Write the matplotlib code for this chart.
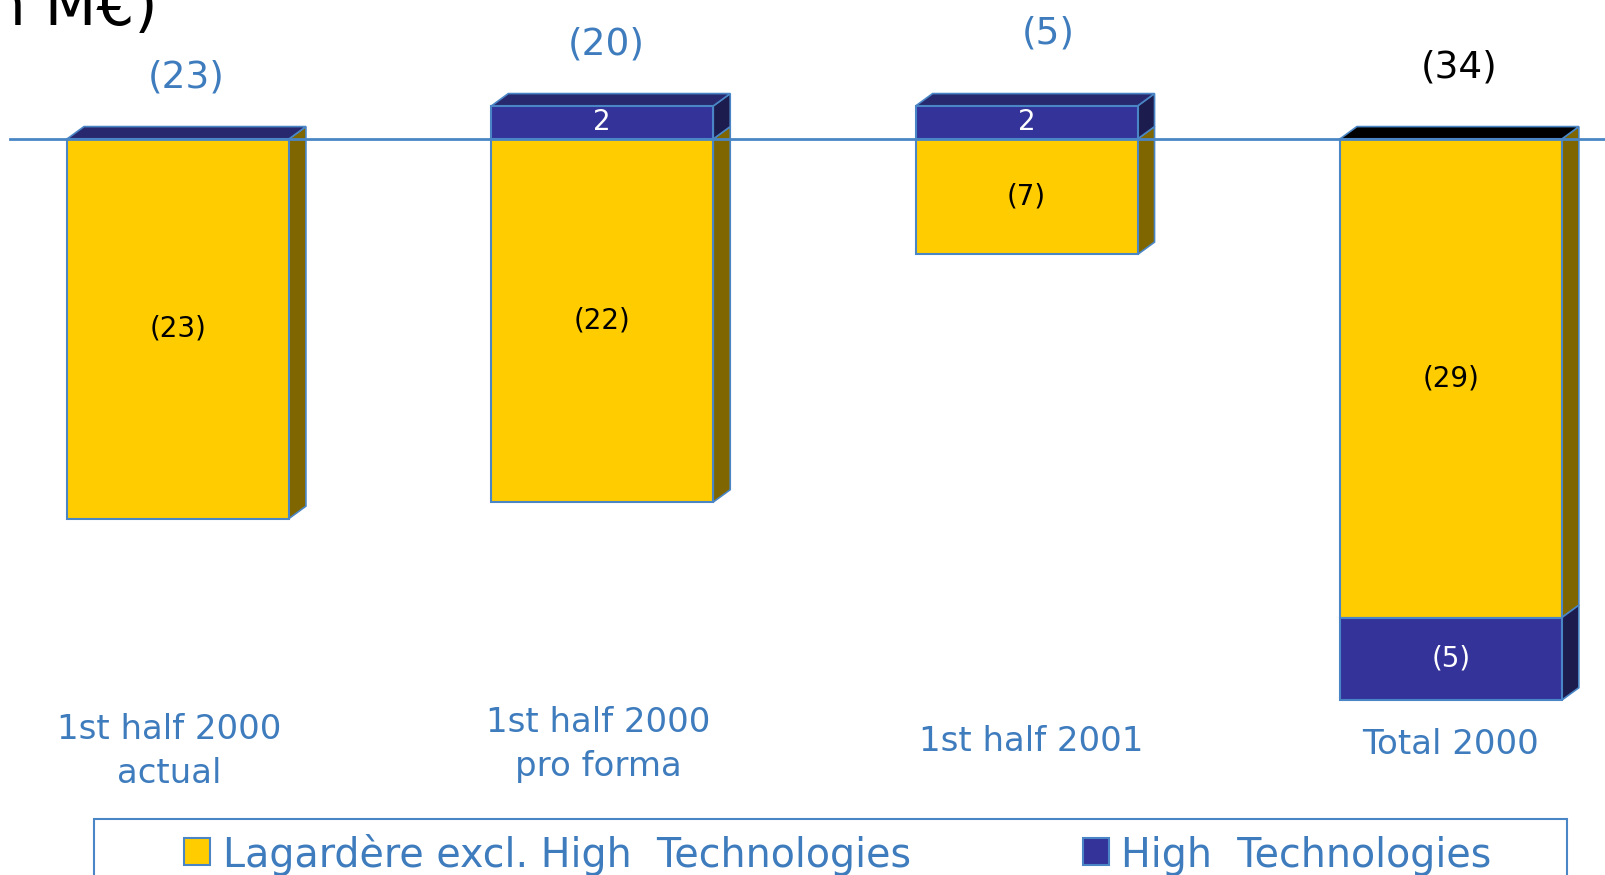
import matplotlib
matplotlib.use('Agg')
import matplotlib.pyplot as plt
from matplotlib.patches import Polygon, Rectangle

# EBIT contribution, M€
categories = ['1st half 2000\nactual', '1st half 2000\npro forma', '1st half 2001', 'Total 2000']
lagardere = [-23, -22, -7, -29]
high_tech = [0, 2, 2, -5]
totals = ['(23)', '(20)', '(5)', '(34)']
legend_labels = ['Lagardère excl. High  Technologies', 'High  Technologies']

YELLOW, YELLOW_SIDE = '#FFCC00', '#806600'
NAVY, NAVY_SIDE, NAVY_TOP = '#333399', '#1C1C4E', '#28286E'
EDGE = '#4A86C5'
TXT = '#3E7CBD'

W, H = 1606, 875
fig = plt.figure(figsize=(W / 100, H / 100), dpi=100)
ax = fig.add_axes([0, 0, 1, 1])
ax.set_xlim(-0.4195, 3.3655)
ax.set_ylim(-44.6, 8.42)
ax.axis('off')

width = 0.523
dx, dy = 0.040, 0.75          # 3D depth offset in data units
x = list(range(len(categories)))


def fmt(v):
    return f'({abs(v)})' if v < 0 else f'{v}'


def side(xr, y0, y1, color):
    pts = [(xr, y0), (xr + dx, y0 + dy), (xr + dx, y1 + dy), (xr, y1)]
    ax.add_patch(Polygon(pts, closed=True, facecolor=color, edgecolor=EDGE, lw=1.2, zorder=2))


def top(xl, xr, yt, color):
    pts = [(xl, yt), (xl + dx, yt + dy), (xr + dx, yt + dy), (xr, yt)]
    ax.add_patch(Polygon(pts, closed=True, facecolor=color, edgecolor=EDGE, lw=1.2, zorder=2))


top_colors = [NAVY_TOP, NAVY_TOP, NAVY_TOP, 'black']
inner = dict(ha='center', va='center', fontsize=20, zorder=5)

for i in x:
    lg, ht = lagardere[i], high_tech[i]
    xl, xr = i - width / 2, i + width / 2
    # yellow segment always hangs from zero
    ax.bar(i, lg, width=width, color=YELLOW, edgecolor=EDGE, lw=1.5, zorder=3)
    side(xr, 0, lg, YELLOW_SIDE)
    ax.text(i, lg / 2, fmt(lg), color='black', **inner)
    if ht > 0:
        ax.bar(i, ht, width=width, color=NAVY, edgecolor=EDGE, lw=1.5, zorder=3)
        side(xr, ht, 0, NAVY_SIDE)
        ax.text(i, ht / 2, fmt(ht), color='white', **inner)
        top(xl, xr, ht, top_colors[i])
    elif ht < 0:
        ax.bar(i, ht, width=width, bottom=lg, color=NAVY, edgecolor=EDGE, lw=1.5, zorder=3)
        side(xr, lg, lg + ht, NAVY_SIDE)
        ax.text(i, lg + ht / 2, fmt(ht), color='white', **inner)
        top(xl, xr, 0, top_colors[i])
    else:
        top(xl, xr, 0, top_colors[i])

# zero line across the bars
ax.axhline(0, xmin=10 / W, xmax=1, color=EDGE, lw=2, zorder=4)

# totals above each bar
total_y = [3.75, 5.75, 6.4, 4.3]
total_colors = [TXT, TXT, TXT, 'black']
total_dx = [0.02, 0.01, 0.05, 0.02]
for i in x:
    ax.text(i + total_dx[i], total_y[i], totals[i], ha='center', va='center',
            fontsize=27, color=total_colors[i])

# category labels under the bars
label_y = [-37.1, -36.7, -36.5, -36.7]
label_dx = [-0.02, -0.01, 0.01, 0.0]
for i in x:
    ax.text(i + label_dx[i], label_y[i], categories[i], ha='center', va='center',
            fontsize=24.5, color=TXT, linespacing=1.42)

# unit title, running off the top-left corner
fig.text(158 / W, 1 - 25 / H, '(in M€)', ha='right', va='baseline', fontsize=43, color='black')

# legend box
fig.patches.append(Rectangle((94 / W, -0.02), (1567 - 94) / W, (875 - 819) / H + 0.02,
                             transform=fig.transFigure, facecolor='white', edgecolor=EDGE, lw=1.5))
for sx, tx, col, lab in [(184, 223, YELLOW, legend_labels[0]), (1083, 1121, NAVY, legend_labels[1])]:
    fig.patches.append(Rectangle((sx / W, 1 - 865 / H), 26 / W, 27 / H, transform=fig.transFigure,
                                 facecolor=col, edgecolor=EDGE, lw=1.5))
    fig.text(tx / W, 1 - 867 / H, lab, ha='left', va='baseline', fontsize=28.5, color=TXT)

fig.savefig('out.png', dpi=100)
